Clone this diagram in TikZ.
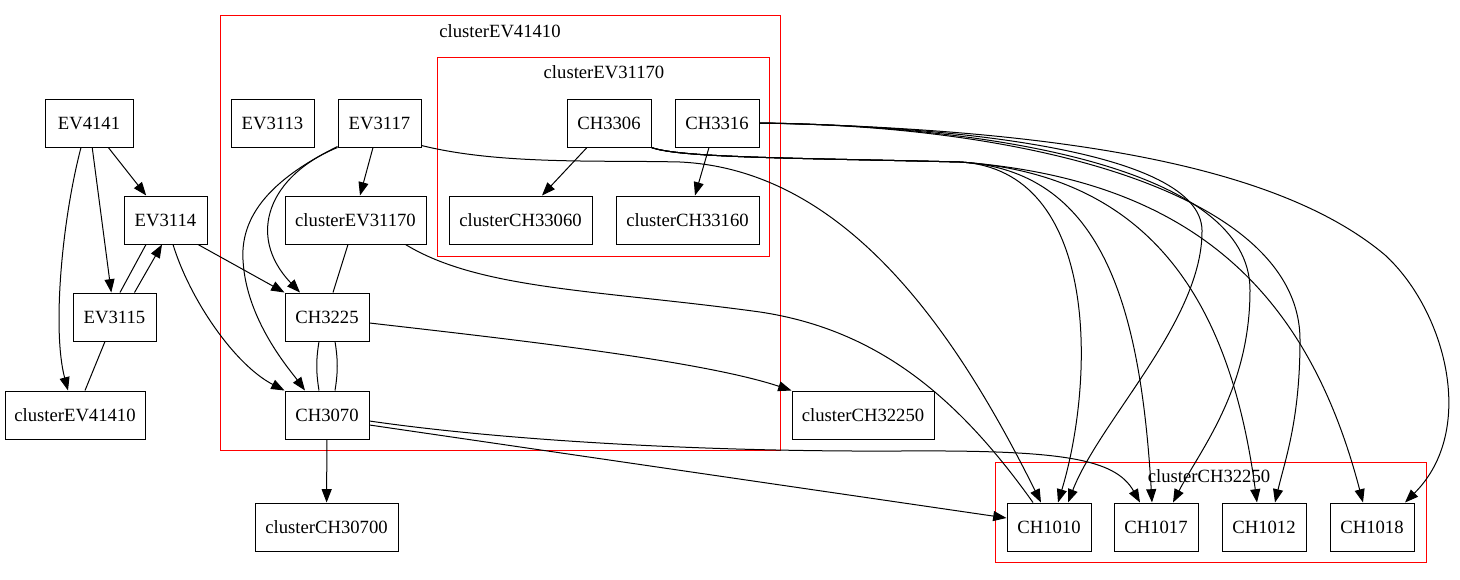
\documentclass[tikz,border=0pt]{standalone}
\usepackage{fontspec}
\setmainfont{Liberation Serif}
\usetikzlibrary{arrows.meta,calc}
\begin{document}
\begin{tikzpicture}[x=0.75pt,y=-0.75pt,
  bx/.style={draw, line width=0.75pt, minimum height=36pt, inner sep=0pt, font=\fontsize{14pt}{16pt}\selectfont},
  lbl/.style={inner sep=0pt, font=\fontsize{14pt}{16pt}\selectfont},
  clus/.style={draw=red, line width=0.75pt},
  arr/.style={-{Triangle[length=10pt,width=7.5pt]}, line width=0.75pt},
  ln/.style={line width=0.75pt}]
\useasboundingbox (0,0) rectangle (1460,579);
% clusters
\draw[clus] (220,15.5) rectangle (780.5,450);
\draw[clus] (437.5,57) rectangle (769.5,256);
\draw[clus] (995,462) rectangle (1426,562.5);
\node[lbl] (lEV41410) at (500,31) {clusterEV41410};
\node[lbl] (lEV31170) at (604,72) {clusterEV31170};
\node[lbl] (lCH32250) at (1209,476) {clusterCH32250};
% nodes
\node[bx, minimum width=66pt] (EV4141) at (89,123) {EV4141};
\node[bx, minimum width=62.25pt] (EV3114) at (165.5,220) {EV3114};
\node[bx, minimum width=62.25pt] (EV3115) at (114.5,317) {EV3115};
\node[bx, minimum width=105pt] (cEV41410) at (75,415) {clusterEV41410};
\node[bx, minimum width=62.25pt] (EV3113) at (272.5,123) {EV3113};
\node[bx, minimum width=62.25pt] (EV3117) at (379.5,123) {EV3117};
\node[bx, minimum width=105.75pt] (cEV31170) at (355.5,220) {clusterEV31170};
\node[bx, minimum width=63pt] (CH3225) at (327,317) {CH3225};
\node[bx, minimum width=63pt] (CH3070) at (327,415) {CH3070};
\node[bx, minimum width=107.25pt] (cCH30700) at (326.5,527) {clusterCH30700};
\node[bx, minimum width=63pt] (CH3306) at (609,123) {CH3306};
\node[bx, minimum width=63pt] (CH3316) at (717,123) {CH3316};
\node[bx, minimum width=107.25pt] (cCH33060) at (520.5,220) {clusterCH33060};
\node[bx, minimum width=107.25pt] (cCH33160) at (687.5,220) {clusterCH33160};
\node[bx, minimum width=106.5pt] (cCH32250) at (863,415) {clusterCH32250};
\node[bx, minimum width=63pt] (CH1010) at (1049,527) {CH1010};
\node[bx, minimum width=63pt] (CH1017) at (1156,527) {CH1017};
\node[bx, minimum width=63pt] (CH1012) at (1264,527) {CH1012};
\node[bx, minimum width=63pt] (CH1018) at (1372,527) {CH1018};
% left edges
\draw[arr] (EV4141) -- (EV3114);
\draw[arr] (EV4141) -- (EV3115);
\draw[arr] ($(EV4141.south)+(-8,0)$) .. controls (62,220) and (52,330) .. ($(cEV41410.north)+(-7,0)$);
\draw[arr] ($(EV3115.north)+(20,0)$) -- ($(EV3114.south)+(-3.5,0)$);
\draw[ln] ($(EV3114.south)+(-19.5,0)$) -- ($(EV3115.north)+(5.5,0)$);
\draw[ln] ($(EV3115.south)+(-9.5,0)$) -- ($(cEV41410.north)+(10,0)$);
\draw[arr] ($(EV3114.south)+(32.5,0)$) -- (CH3225.north west);
\draw[arr] ($(EV3114.south)+(7.5,0)$) .. controls (190,300) and (235,365) .. (CH3070.north west);
% EV3117 edges
\draw[arr] ($(EV3117.south)+(-6.5,0)$) -- ($(cEV31170.north)+(4.5,0)$);
\draw[arr] (EV3117.south west) .. controls (270,175) and (245,235) .. ($(CH3225.north)+(-27,0)$);
\draw[arr] ($(EV3117.south west)+(0,-1)$) .. controls (280,175) and (240,210) .. (243,260) .. controls (246,320) and (290,370) .. ($(CH3070.north)+(-22,0)$);
\draw[arr] ($(EV3117.south east)+(0,-2)$) .. controls (500,165) and (600,160) .. (680,162) .. controls (850,170) and (960,340) .. ($(CH1010.north)+(-8,0)$);
\draw[ln] ($(cEV31170.south)+(-7.5,0)$) -- ($(CH3225.north)+(6,0)$);
\draw[ln] ($(cEV31170.south east)+(-21,0)$) .. controls (480,290) and (600,290) .. (760,312) .. controls (880,330) and (960,400) .. ($(CH1010.north)+(-16,0)$);
% CH3225 / CH3070
\draw[ln] ($(CH3225.south)+(-8,0)$) .. controls (316,360) and (316,372) .. ($(CH3070.north)+(-8,0)$);
\draw[ln] ($(CH3225.south)+(8,0)$) .. controls (338,360) and (338,372) .. ($(CH3070.north)+(8,0)$);
\draw[arr] ($(CH3225.east)+(0,6)$) .. controls (500,338) and (700,360) .. (cCH32250.north west);
\draw[arr] (CH3070) -- (cCH30700);
\draw[arr] ($(CH3070.east)+(0,10)$) -- ($(CH1010.west)+(0,-9)$);
\draw[arr] ($(CH3070.east)+(0,6)$) .. controls (500,440) and (700,452) .. (900,451) .. controls (1060,450) and (1115,458) .. ($(CH1017.north)+(-16,0)$);
% CH3306 / CH3316 internal
\draw[arr] ($(CH3306.south)+(-22,0)$) -- ($(cCH33060.north)+(21.5,0)$);
\draw[arr] ($(CH3316.south)+(-8,0)$) -- ($(cCH33160.north)+(7.5,0)$);
% CH3306 bundle
\draw[arr] (CH3306.south east) .. controls (680,158) and (800,158) .. (960,162) .. controls (1100,170) and (1095,380) .. ($(CH1010.north)+(9,0)$);
\draw[arr] (CH3306.south east) .. controls (680,158) and (800,158) .. (960,162) .. controls (1100,170) and (1140,300) .. ($(CH1017.north)+(-4,0)$);
\draw[arr] (CH3306.south east) .. controls (680,158) and (800,158) .. (960,162) .. controls (1150,175) and (1230,300) .. ($(CH1012.north)+(-7,0)$);
\draw[arr] (CH3306.south east) .. controls (680,158) and (800,158) .. (960,162) .. controls (1200,180) and (1310,300) .. ($(CH1018.north)+(-9,0)$);
% CH3316 bundle
\draw[arr] (CH3316.east) .. controls (950,126) and (1200,150) .. (1202,230) .. controls (1203,320) and (1100,420) .. ($(CH1010.north)+(19,0)$);
\draw[arr] (CH3316.east) .. controls (1000,126) and (1250,170) .. (1250,290) .. controls (1250,390) and (1200,450) .. ($(CH1017.north)+(17,0)$);
\draw[arr] (CH3316.east) .. controls (1050,126) and (1300,200) .. (1300,340) .. controls (1300,420) and (1285,460) .. ($(CH1012.north)+(11,0)$);
\draw[arr] (CH3316.east) .. controls (1100,130) and (1290,175) .. (1385,255) .. controls (1445,310) and (1478,430) .. ($(CH1018.north)+(33,0)$);
\end{tikzpicture}
\end{document}
